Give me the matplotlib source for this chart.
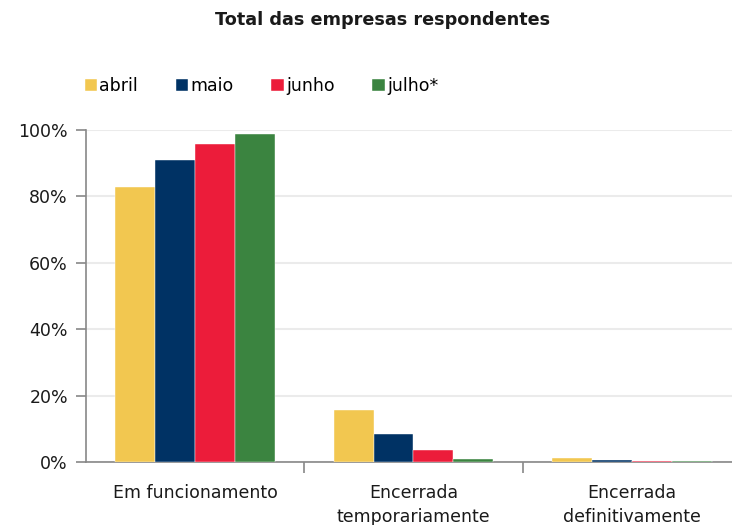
import matplotlib
matplotlib.use("Agg")
import matplotlib.pyplot as plt
import numpy as np

categories = ["Em funcionamento", "Encerrada\ntemporariamente", "Encerrada\ndefinitivamente"]
series_names = ["abril", "maio", "junho", "julho*"]
abril = [82.8, 15.7, 1.2]
maio = [91.0, 8.4, 0.5]
junho = [95.8, 3.6, 0.4]
julho = [98.8, 0.9, 0.2]
yticks = [0, 20, 40, 60, 80, 100]
ytick_labels = ["0%", "20%", "40%", "60%", "80%", "100%"]
title = "Total das empresas respondentes"

colors = ["#F2C750", "#003264", "#EC1C3A", "#3B8440"]

plt.rcParams['font.family'] = ['DejaVu Sans']
fig = plt.figure(figsize=(7.32, 5.25), dpi=100)
ax = fig.add_axes([86/732, 1-462/525, (732-86)/732, (462-130)/525])

x = np.arange(len(categories))
w = 0.183
data = [abril, maio, junho, julho]
for i, (vals, name, c) in enumerate(zip(data, series_names, colors)):
    ax.bar(x + (i - 1.5) * w, vals, width=w, color=c, label=name,
           edgecolor='white', linewidth=0.3, zorder=3)

ax.set_xlim(-0.5, 2.5 - 9/218.5)
ax.set_ylim(0, 100)
ax.set_yticks(yticks)
ax.set_yticklabels(ytick_labels, fontsize=12.5, color='#1a1a1a')
ax.yaxis.grid(True, color='#EBEBEB', linewidth=1.5, zorder=0)
ax.set_axisbelow(True)

ax.set_xticks([0.5, 1.5])
ax.set_xticklabels([])
ax.tick_params(axis='x', length=8, color='#888888', width=1.2)
ax.tick_params(axis='y', length=7, color='#888888', width=1.2, pad=6)
for i, cat in enumerate(categories):
    ax.text(i, -6.5, cat, ha='center', va='top', fontsize=12.5, color='#1a1a1a',
            linespacing=1.45)

for s in ['top', 'right']:
    ax.spines[s].set_visible(False)
ax.spines['left'].set_color('#888888')
ax.spines['bottom'].set_color('#888888')
ax.spines['left'].set_linewidth(1.2)
ax.spines['bottom'].set_linewidth(1.2)

fig.text(383/732, 1-20/525, title, ha='center', va='center', fontsize=12.7, fontweight='bold',
         color='#1a1a1a')

leg = ax.legend(loc='lower left', bbox_to_anchor=(-0.013, 1.085), ncol=4, frameon=False,
                fontsize=12.5, handlelength=0.7, handleheight=0.7, handletextpad=0.15,
                columnspacing=2.17, borderaxespad=0)

fig.savefig("out.png", dpi=100)
